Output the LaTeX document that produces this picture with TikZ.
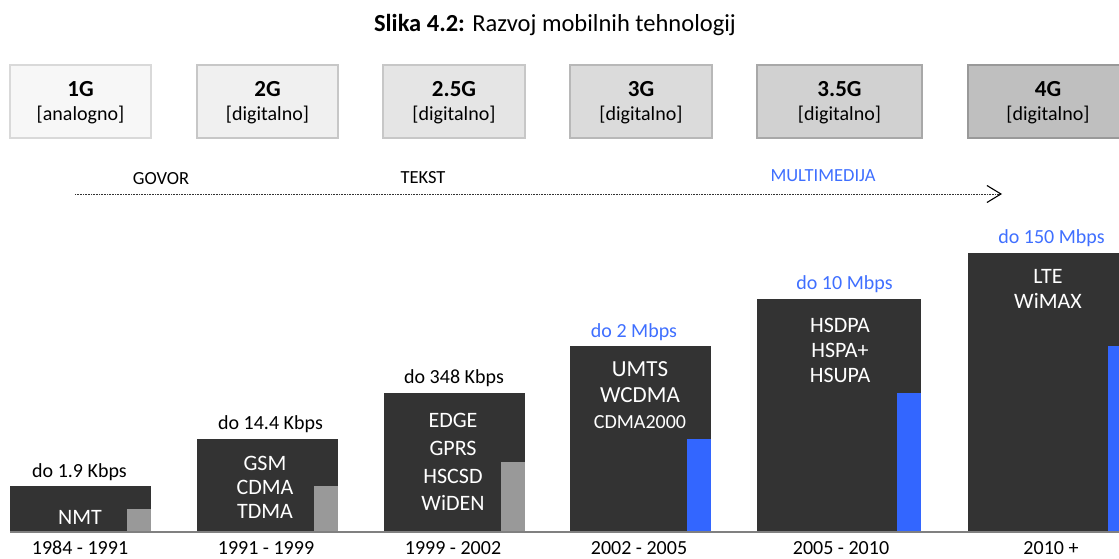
\documentclass[tikz,border=0pt]{standalone}
\usepackage{fontspec}
\setmainfont{Carlito}
\usetikzlibrary{arrows.meta}
\definecolor{bardark}{HTML}{333333}
\definecolor{bargray}{HTML}{999999}
\definecolor{barblue}{HTML}{3366FF}
\definecolor{txtblue}{HTML}{3F6FFF}
\definecolor{axisgray}{HTML}{808080}
\newcommand\myfs[2]{\fontsize{#1}{#2}\selectfont}
\begin{document}
\begin{tikzpicture}[x=1pt,y=-1pt,
  genbox/.style={draw, line width=1.5pt, minimum height=73pt, inner sep=0pt, outer sep=0pt, anchor=north west},
  gentitle/.style={anchor=base, inner sep=0pt, font=\myfs{23}{27}\bfseries},
  gensub/.style={anchor=base, inner sep=0pt, font=\myfs{20}{24}},
  bar/.style={fill=bardark, inner sep=0pt, outer sep=0pt, anchor=south west, minimum width=#1},
  small/.style={inner sep=0pt, outer sep=0pt, anchor=south west, minimum width=24pt},
  speed/.style={anchor=base, inner sep=0pt, font=\myfs{20}{24}},
  tech/.style={anchor=base, inner sep=0pt, text=white, font=\myfs{22}{26}},
  year/.style={anchor=base, inner sep=0pt, font=\myfs{20}{24}},
  phase/.style={anchor=base, inner sep=0pt, font=\myfs{18.5}{22}}
]
\useasboundingbox (0,0) rectangle (1119,559);
\begin{scope}
\clip (0,0) rectangle (1119,559);

% title
\node[anchor=base, inner sep=0pt, font=\myfs{24.5}{28}] (title) at (555,32) {\textbf{Slika 4.2:} Razvoj mobilnih tehnologij};

% generation boxes
\node[genbox, draw=black!15, fill=black!3, minimum width=141pt] (g1) at (10,65) {};
\node[genbox, draw=black!22, fill=black!6, minimum width=141pt] (g2) at (197,65) {};
\node[genbox, draw=black!22, fill=black!10, minimum width=142pt] (g25) at (383,65) {};
\node[genbox, draw=black!28, fill=black!14, minimum width=142pt] (g3) at (570,65) {};
\node[genbox, draw=black!34, fill=black!18, minimum width=165pt] (g35) at (757,65) {};
\node[genbox, draw=black!40, fill=black!25, minimum width=162pt] (g4) at (968,65) {};

\node[gentitle] (g1t) at (80.5,97) {1G};
\node[gensub] (g1s) at (80.5,121) {[analogno]};
\node[gentitle] (g2t) at (267.5,97) {2G};
\node[gensub] (g2s) at (267.5,121) {[digitalno]};
\node[gentitle] (g25t) at (454,97) {2.5G};
\node[gensub] (g25s) at (454,121) {[digitalno]};
\node[gentitle] (g3t) at (641,97) {3G};
\node[gensub] (g3s) at (641,121) {[digitalno]};
\node[gentitle] (g35t) at (839.5,97) {3.5G};
\node[gensub] (g35s) at (839.5,121) {[digitalno]};
\node[gentitle] (g4t) at (1048,97) {4G};
\node[gensub] (g4s) at (1048,121) {[digitalno]};

% phases
\node[phase] (govor) at (161,184) {GOVOR};
\node[phase] (tekst) at (423,183) {TEKST};
\node[phase, text=txtblue] (multi) at (823,182) {MULTIMEDIJA};
\coordinate (arS) at (75,194);
\coordinate (arE) at (1002,194);
\draw[line width=1pt, black!80, dash pattern=on 1pt off 0.6pt,
  -{Straight Barb[length=14pt,width=17pt,line width=1.1pt,black]}] (arS) -- (arE);

% bars
\node[bar=141pt, minimum height=46pt] (b1) at (10,532) {};
\node[small, fill=bargray, minimum height=23pt] (s1) at (127,532) {};
\node[bar=141pt, minimum height=93pt] (b2) at (197,532) {};
\node[small, fill=bargray, minimum height=46pt] (s2) at (314,532) {};
\node[bar=141pt, minimum height=139pt] (b3) at (384,532) {};
\node[small, fill=bargray, minimum height=70pt] (s3) at (501,532) {};
\node[bar=141pt, minimum height=186pt] (b4) at (570,532) {};
\node[small, fill=barblue, minimum height=93pt] (s4) at (687,532) {};
\node[bar=164pt, minimum height=233pt] (b5) at (757,532) {};
\node[small, fill=barblue, minimum height=139pt] (s5) at (897,532) {};
\node[bar=165pt, minimum height=279pt] (b6) at (968,532) {};
\node[small, fill=barblue, minimum height=186pt] (s6) at (1108,532) {};

% axis
\coordinate (axL) at (10,532);
\coordinate (axR) at (1119,532);
\draw[axisgray, line width=2pt] (axL) -- (axR);

% speeds
\node[speed] (v1) at (79.5,477) {do 1.9 Kbps};
\node[speed] (v2) at (270.5,429) {do 14.4 Kbps};
\node[speed] (v3) at (454,383) {do 348 Kbps};
\node[speed, text=txtblue] (v4) at (634,337) {do 2 Mbps};
\node[speed, text=txtblue] (v5) at (844.5,289) {do 10 Mbps};
\node[speed, text=txtblue] (v6) at (1051.5,243) {do 150 Mbps};

% technologies
\node[tech] (t1) at (80,524) {NMT};
\node[tech] (t2a) at (265,470) {GSM};
\node[tech] (t2b) at (265,494) {CDMA};
\node[tech] (t2c) at (265,518) {TDMA};
\node[tech] (t3a) at (453,427) {EDGE};
\node[tech] (t3b) at (453,455) {GPRS};
\node[tech] (t3c) at (453,483) {HSCSD};
\node[tech] (t3d) at (453,510) {WiDEN};
\node[tech, font=\myfs{23}{27}] (t4a) at (640,376) {UMTS};
\node[tech, font=\myfs{23}{27}] (t4b) at (640,402) {WCDMA};
\node[tech, font=\myfs{20}{24}] (t4c) at (640,428) {CDMA2000};
\node[tech] (t5a) at (840,332) {HSDPA};
\node[tech] (t5b) at (840,357) {HSPA+};
\node[tech] (t5c) at (840,382) {HSUPA};
\node[tech] (t6a) at (1048,283) {LTE};
\node[tech] (t6b) at (1048,308) {WiMAX};

% years
\node[year] (y1) at (80,554) {1984 - 1991};
\node[year] (y2) at (266,554) {1991 - 1999};
\node[year] (y3) at (453,554) {1999 - 2002};
\node[year] (y4) at (639,554) {2002 - 2005};
\node[year] (y5) at (841,554) {2005 - 2010};
\node[year] (y6) at (1051,554) {2010 +};
\end{scope}
\end{tikzpicture}
\end{document}
